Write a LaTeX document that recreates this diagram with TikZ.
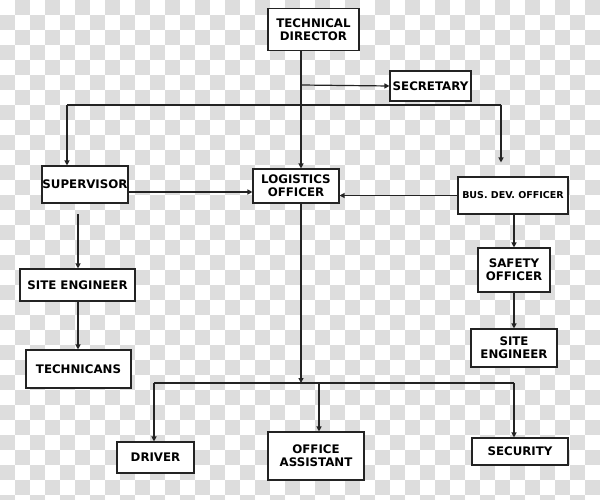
\documentclass[tikz,border=0pt]{standalone}
\usepackage{fontspec}
\usetikzlibrary{arrows.meta}
\newfontfamily\orgfont{DejaVu Sans}
\definecolor{chk_grey}{RGB}{221, 221, 221}
\definecolor{line_grey}{RGB}{35, 35, 35}
\tikzstyle{post}=[rectangle,fill=white,draw=line_grey,line width=1.1pt,
  inner sep=0pt,align=center,font=\orgfont\bfseries\fontsize{11.8}{13}\selectfont]
\tikzstyle{link}=[draw=line_grey,line width=1.2pt]
\tikzstyle{arr}=[link,-{Triangle[length=5pt,width=5pt]}]

\begin{document}
\begin{tikzpicture}[x=1pt,y=-1pt]
    \useasboundingbox (0,0) rectangle (600,500);
    \begin{scope}
      \clip (0,0) rectangle (600,500);
      \foreach \i in {0,2,...,38}
        \foreach \j in {0,2,...,32} {
          \fill[chk_grey] (\i*15+15,\j*15) rectangle +(15,15);
          \fill[chk_grey] (\i*15,\j*15+15) rectangle +(15,15);
        }
    \end{scope}
    \node [style=post,minimum width=91pt,minimum height=42pt] (dir) at (313.5,29.5) {TECHNICAL\\DIRECTOR};
    \node [style=post,minimum width=81pt,minimum height=30pt] (sec) at (430.5,86) {SECRETARY};
    \node [style=post,minimum width=86pt,minimum height=37pt] (sup) at (85,184.5) {SUPERVISOR};
    \node [style=post,minimum width=86pt,minimum height=34pt] (log) at (296,186) {LOGISTICS\\OFFICER};
    \node [style=post,minimum width=110pt,minimum height=37pt,
      font=\orgfont\bfseries\fontsize{9.5}{11}\selectfont] (bdo) at (513,195.5) {BUS. DEV. OFFICER};
    \node [style=post,minimum width=115pt,minimum height=32pt] (se1) at (77.5,285) {SITE ENGINEER};
    \node [style=post,minimum width=105pt,minimum height=38pt] (tech) at (78.5,369) {TECHNICANS};
    \node [style=post,minimum width=72pt,minimum height=44pt] (safe) at (514,270) {SAFETY\\OFFICER};
    \node [style=post,minimum width=86pt,minimum height=38pt] (se2) at (514,348) {SITE\\ENGINEER};
    \node [style=post,minimum width=77pt,minimum height=31pt] (drv) at (155.5,457.5) {DRIVER};
    \node [style=post,minimum width=96pt,minimum height=48pt] (oa) at (316,456) {OFFICE\\ASSISTANT};
    \node [style=post,minimum width=96pt,minimum height=27pt] (secu) at (520,451.5) {SECURITY};
    \coordinate (t1) at (301,85);
    \coordinate (t2) at (301,105);
    \coordinate (l1) at (67,105);
    \coordinate (r1) at (501,105);
    \coordinate (s1) at (78,214);
    \coordinate (b0) at (301,383);
    \coordinate (b1) at (154,383);
    \coordinate (b2) at (514,383);
    \coordinate (b3) at (319,383);
    \draw [style=arr] (dir.south -| t1) to (log.north -| t1);
    \draw [style=arr] (t1) to (sec.west);
    \draw [style=link] (l1) to (r1);
    \draw [style=arr] (l1) to (l1 |- sup.north);
    \draw [style=arr,shorten >=14pt] (r1) to (r1 |- bdo.north);
    \draw [style=arr] ([yshift=-7.5pt]sup.east) to ([yshift=-7.5pt]sup.east -| log.west);
    \draw [style=arr] (bdo.west) to (bdo.west -| log.east);
    \draw [style=arr] (s1) to (s1 |- se1.north);
    \draw [style=arr] (se1.south -| s1) to (s1 |- tech.north);
    \draw [style=arr] (bdo.south -| safe.north) to (safe.north);
    \draw [style=arr] (safe.south) to (se2.north);
    \draw [style=arr] (log.south -| t1) to (b0);
    \draw [style=link] (b1) to (b2);
    \draw [style=arr] (b1) to (b1 |- drv.north);
    \draw [style=arr] (b3) to (b3 |- oa.north);
    \draw [style=arr] (b2) to (b2 |- secu.north);
  \end{tikzpicture}
\end{document}
